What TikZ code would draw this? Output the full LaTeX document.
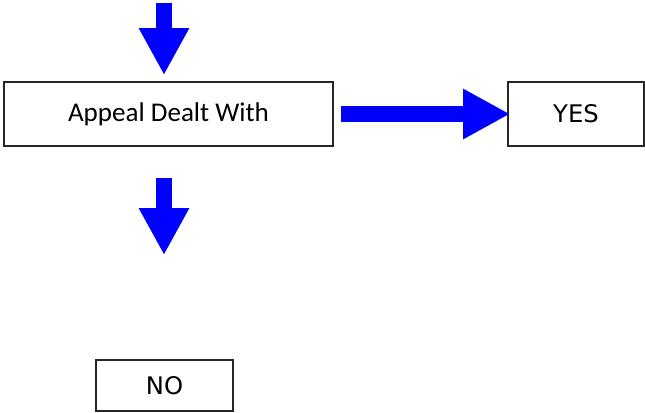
\documentclass[tikz,border=0pt]{standalone}
\usepackage{fontspec}
\setmainfont{Carlito}
\newfontfamily\answerfont{DejaVu Sans}
\usetikzlibrary{arrows.meta}
\begin{document}
\begin{tikzpicture}[x=0.02cm,y=-0.02cm,
    box/.style={draw=black!85, line width=1pt, inner sep=0pt},
    flow/.style={draw=blue, line width=9.1pt, -{Triangle[length=26.7pt,width=26.7pt]}}]
    \useasboundingbox (0,0) rectangle (645,412);
    \node[box, minimum width=6.58cm, minimum height=1.28cm, font=\fontsize{15.4}{17}\selectfont] (appeal) at (168.5,114) {Appeal Dealt With};
    \node[box, minimum width=2.72cm, minimum height=1.28cm, font=\answerfont\fontsize{13.8}{15}\selectfont] (yes) at (576,114) {YES};
    \node[box, minimum width=2.74cm, minimum height=1.02cm, font=\answerfont\fontsize{13.8}{15}\selectfont] (no) at (164.5,385.5) {NO};
    \coordinate (top) at (164,3);
    %% arrows in and out of the appeal box
    \draw[flow, shorten >=6*0.02cm] (top) -- (top |- appeal.north);
    \draw[flow, shorten <=7*0.02cm, shorten >=-3*0.02cm] (appeal.east) -- (yes.west);
    \draw[flow, shorten <=31*0.02cm, shorten >=104*0.02cm] (appeal.south -| top) -- (no.north -| top);
\end{tikzpicture}
\end{document}
